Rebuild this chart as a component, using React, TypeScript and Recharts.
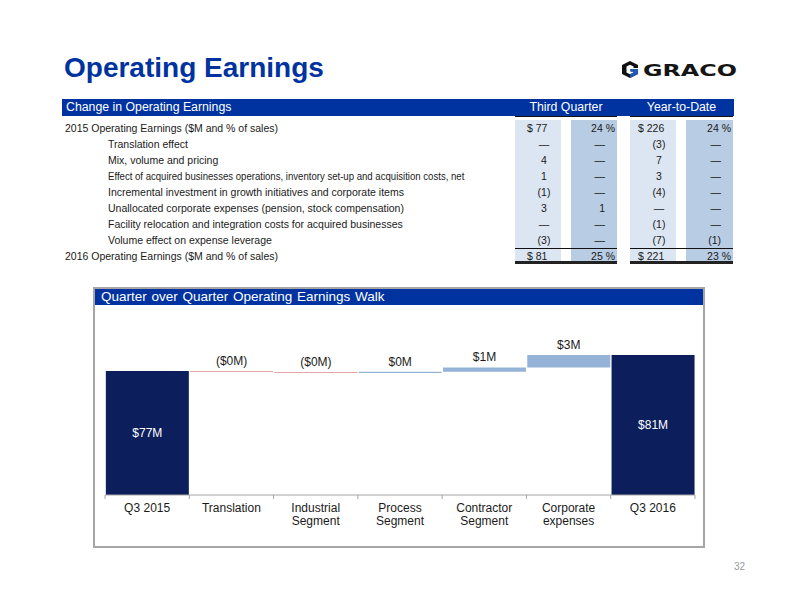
import React from 'react';
import { BarChart, Bar, XAxis, YAxis, Cell, LabelList } from 'recharts';

// ---- table data ----
const rowLabels = [
  '2015 Operating Earnings ($M and % of sales)',
  'Translation effect',
  'Mix, volume and pricing',
  'Effect of acquired businesses operations, inventory set-up and acquisition costs, net',
  'Incremental investment in growth initiatives and corporate items',
  'Unallocated corporate expenses (pension, stock compensation)',
  'Facility relocation and integration costs for acquired businesses',
  'Volume effect on expense leverage',
  '2016 Operating Earnings ($M and % of sales)',
];
const rowIndent = [false, true, true, true, true, true, true, true, false];
const q3Amounts = ['$ 77', '—', '4', '1', '(1)', '3', '—', '(3)', '$ 81'];
const q3Pcts = ['24 %', '—', '—', '—', '—', '1', '—', '—', '25 %'];
const ytdAmounts = ['$ 226', '(3)', '7', '3', '(4)', '—', '(1)', '(7)', '$ 221'];
const ytdPcts = ['24 %', '—', '—', '—', '—', '—', '—', '(1)', '23 %'];

// ---- walk chart data ----
const categories = [
  'Q3 2015',
  'Translation',
  'Industrial\nSegment',
  'Process\nSegment',
  'Contractor\nSegment',
  'Corporate\nexpenses',
  'Q3 2016',
];
const walkValues = [77, -0.25, -0.25, 0.3, 1.1, 3.1, 81];
const isTotal = [true, false, false, false, false, false, true];

const FONT = '"Liberation Sans", Arial, sans-serif';
const BLUE = '#0033A0';
const NAVY = '#0C1F5C';
const POS = '#95B3D7';
const NEG = '#E3A5A5';

const Y_MIN = 46;
const Y_MAX = 86;
const CHART_W = 610;
const CHART_H = 240;
const MARGIN = { top: 29, right: 10, bottom: 0, left: 10 };
const BAND = (CHART_W - MARGIN.left - MARGIN.right) / categories.length;
// the very long row is squeezed in the original so it clears the number columns
const LONG_LABEL = 70;
const LONG_SCALE = 0.913;

let running = 0;
const walkData = categories.map((name, i) => {
  const v = walkValues[i];
  if (isTotal[i]) {
    running = v;
    return { name, value: v, range: [Y_MIN, v], kind: 'total' };
  }
  const start = running;
  running = running + v;
  return {
    name,
    value: v,
    range: [Math.min(start, running), Math.max(start, running)],
    kind: v < 0 ? 'neg' : 'pos',
  };
});

const fmtDelta = (v: number) => {
  const s = `$${Math.round(Math.abs(v))}M`;
  return v < 0 ? `(${s})` : s;
};

const WalkLabel = (props: any) => {
  const vb = props.viewBox && props.viewBox.width !== undefined ? props.viewBox : props;
  const { x, y, width, height } = vb;
  const d = walkData[props.index];
  if (!d) return null;
  const top = Math.min(y, y + height);
  const cx = x + width / 2;
  if (d.kind === 'total') {
    return (
      <text x={cx} y={top + Math.abs(height) / 2 + 4} textAnchor="middle" fill="#fff" fontSize={12} fontFamily={FONT}>
        {`$${d.value}M`}
      </text>
    );
  }
  return (
    <text x={cx} y={top - 6} textAnchor="middle" fill="#1a1a1a" fontSize={12} fontFamily={FONT}>
      {fmtDelta(d.value)}
    </text>
  );
};

const CategoryTick = (props: any) => {
  const { x, y, payload, index } = props;
  const lines = String(payload.value).split('\n');
  const left = x - BAND / 2;
  const right = x + BAND / 2;
  return (
    <g>
      <line x1={left} x2={left} y1={y} y2={y + 4} stroke="#A6A6A6" />
      {index === categories.length - 1 && <line x1={right} x2={right} y1={y} y2={y + 4} stroke="#A6A6A6" />}
      <text x={x} y={y + 17} textAnchor="middle" fill="#1a1a1a" fontSize={12} fontFamily={FONT}>
        {lines.map((l, i) => (
          <tspan key={i} x={x} dy={i === 0 ? 0 : 13}>
            {l}
          </tspan>
        ))}
      </text>
    </g>
  );
};

const abs = (left: number, top: number, extra: React.CSSProperties = {}): React.CSSProperties => ({
  position: 'absolute',
  left,
  top,
  ...extra,
});

// column geometry for the table
const cols = [
  { left: 515, width: 46, bg: '#DCE6F2' },
  { left: 571, width: 46, bg: '#B8CCE4' },
  { left: 630, width: 46, bg: '#DCE6F2' },
  { left: 686, width: 47, bg: '#B8CCE4' },
];

const cellText = (text: string, row: number, key: string, kind: 'amt1' | 'amt3' | 'pct2' | 'pct4') => {
  const top = 120 + row * 16;
  const base: React.CSSProperties = { height: 16, lineHeight: '16px', fontSize: 10.5, color: '#1a1a1a', whiteSpace: 'nowrap' };
  if (kind === 'amt1' || kind === 'amt3') {
    if (text.startsWith('$')) {
      return <div key={key} style={abs(kind === 'amt1' ? 527 : 638, top, base)}>{text}</div>;
    }
    const c = kind === 'amt1' ? 544 : 659;
    return <div key={key} style={abs(c - 30, top, { ...base, width: 60, textAlign: 'center' })}>{text}</div>;
  }
  const r = kind === 'pct2' ? 615 : 731;
  const pad = text.endsWith('%') ? 0 : 10;
  return <div key={key} style={abs(r - pad - 60, top, { ...base, width: 60, textAlign: 'right' })}>{text}</div>;
};

const App: React.FC = () => {
  return (
    <div style={{ position: 'absolute', left: 0, top: 0, width: 792, height: 612, background: '#fff', fontFamily: FONT, overflow: 'hidden' }}>
      {/* Title */}
      <div style={abs(64, 54, { fontSize: 28, lineHeight: '28px', fontWeight: 'bold', color: BLUE, whiteSpace: 'nowrap' })}>
        Operating Earnings
      </div>

      {/* Logo */}
      <svg style={abs(622, 60)} width={120} height={20}>
        <polygon points="8,1 16,5 16,8 11.5,8 11.5,6.5 8,4.7 4.5,6.5 4.5,12.5 8,14.3 11.5,12.5 11.5,11.5 8.5,11.5 8.5,9 16,9 16,14 8,18 0,14 0,5" fill="#111" />
        <polygon points="8.5,9 16,9 16,14 8,18 8,14.3 11.5,12.5 11.5,11.5 8.5,11.5" fill="#1F5BB5" />
        <text x={21} y={16} fontSize={15.5} fontWeight={900} fill="#151515" fontFamily='"DejaVu Sans", sans-serif' textLength={94} lengthAdjust="spacingAndGlyphs">
          GRACO
        </text>
      </svg>

      {/* Table header */}
      <div style={abs(62, 99, { width: 672, height: 17, background: BLUE, color: '#fff', fontSize: 12.3, lineHeight: '17px' })}>
        <span style={{ position: 'absolute', left: 4 }}>Change in Operating Earnings</span>
        <span style={{ position: 'absolute', left: 453, width: 102, textAlign: 'center' }}>Third Quarter</span>
        <span style={{ position: 'absolute', left: 568, width: 103, textAlign: 'center' }}>Year-to-Date</span>
      </div>
      <div style={abs(515, 116, { width: 102, height: 1, background: '#111' })} />
      <div style={abs(630, 116, { width: 103, height: 1, background: '#111' })} />

      {/* Column shading */}
      {cols.map((c, i) => (
        <div key={`col-${i}`} style={abs(c.left, 120, { width: c.width, height: 142, background: c.bg })} />
      ))}
      <div style={abs(515, 248, { width: 102, height: 1, background: '#111' })} />
      <div style={abs(630, 248, { width: 103, height: 1, background: '#111' })} />
      <div style={abs(515, 261, { width: 102, height: 3, background: '#222' })} />
      <div style={abs(630, 261, { width: 103, height: 3, background: '#222' })} />

      {/* Table rows */}
      {rowLabels.map((label, i) => (
        <div
          key={`lbl-${i}`}
          style={abs(rowIndent[i] ? 108 : 65, 120 + i * 16, {
            height: 16,
            lineHeight: '16px',
            fontSize: 10.5,
            color: '#1a1a1a',
            whiteSpace: 'nowrap',
            transformOrigin: 'left center',
            transform: label.length > LONG_LABEL ? `scaleX(${LONG_SCALE})` : undefined,
          })}
        >
          {label}
        </div>
      ))}
      {q3Amounts.map((t, i) => cellText(t, i, `q3a-${i}`, 'amt1'))}
      {q3Pcts.map((t, i) => cellText(t, i, `q3p-${i}`, 'pct2'))}
      {ytdAmounts.map((t, i) => cellText(t, i, `ytda-${i}`, 'amt3'))}
      {ytdPcts.map((t, i) => cellText(t, i, `ytdp-${i}`, 'pct4'))}

      {/* Walk chart panel */}
      <div style={abs(93, 287, { width: 612, height: 261, border: '2px solid #A6A6A6', boxSizing: 'border-box' })} />
      <div style={abs(95, 289, { width: 608, height: 16, background: BLUE, color: '#fff', fontSize: 13.5, lineHeight: '16px', whiteSpace: 'nowrap', wordSpacing: 1 })}>
        <span style={{ position: 'absolute', left: 6 }}>Quarter over Quarter Operating Earnings Walk</span>
      </div>
      <div style={abs(95, 306)}>
        <BarChart width={CHART_W} height={CHART_H} data={walkData} margin={MARGIN} barCategoryGap="1%">
          <XAxis
            dataKey="name"
            interval={0}
            height={51}
            tickLine={false}
            tickSize={0}
            tickMargin={0}
            axisLine={{ stroke: '#A6A6A6' }}
            tick={<CategoryTick />}
          />
          <YAxis hide type="number" domain={[Y_MIN, Y_MAX]} allowDataOverflow />
          <Bar dataKey="range" isAnimationActive={false}>
            {walkData.map((d, i) => (
              <Cell key={`c-${i}`} fill={d.kind === 'total' ? NAVY : d.kind === 'neg' ? NEG : POS} />
            ))}
            <LabelList dataKey="value" content={<WalkLabel />} />
          </Bar>
        </BarChart>
      </div>

      {/* Page number */}
      <div style={abs(734, 561, { fontSize: 10, lineHeight: '12px', color: '#9a9a9a' })}>32</div>
    </div>
  );
};

export default App;
